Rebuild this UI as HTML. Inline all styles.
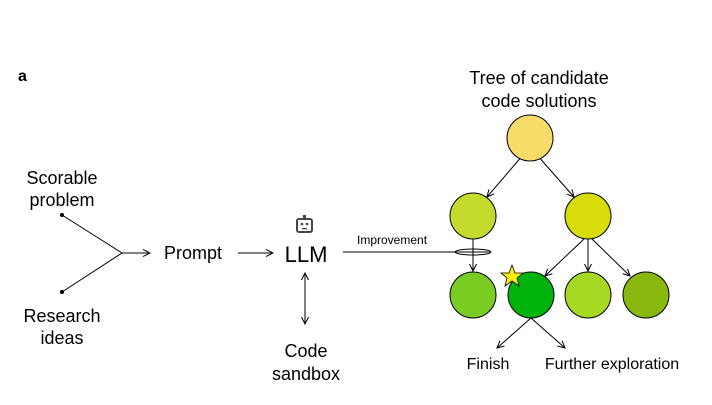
<!DOCTYPE html>
<html><head><style>body{margin:0;background:#fff}</style></head><body>
<svg width="712" height="400" xmlns="http://www.w3.org/2000/svg" font-family="Liberation Sans, sans-serif">
<defs><marker id="a" markerWidth="8" markerHeight="8" refX="7" refY="4" orient="auto" markerUnits="userSpaceOnUse"><path d="M0,0.5 L7,4 L0,7.5" fill="none" stroke="#000" stroke-width="1"/></marker></defs>
<text x="18" y="81" font-size="16" font-weight="bold">a</text>
<g font-size="18" text-anchor="middle">
<text x="62" y="184">Scorable</text><text x="62" y="206">problem</text>
<text x="62" y="322">Research</text><text x="62" y="344">ideas</text>
<text x="193" y="259">Prompt</text>
<text x="306" y="357">Code</text><text x="306" y="380">sandbox</text>
<text x="539" y="84">Tree of candidate</text><text x="539" y="107">code solutions</text>
<text x="488" y="369" font-size="16">Finish</text><text x="612" y="369" font-size="16">Further exploration</text>
</g>
<text x="306" y="262" font-size="22" text-anchor="middle">LLM</text>
<text x="357" y="244" font-size="12">Improvement</text>
<g stroke="#000" stroke-width="1" fill="none">
<circle cx="62" cy="215" r="1.5" fill="#000"/><circle cx="62" cy="292" r="1.5" fill="#000"/>
<path d="M62,215 L122,253 L62,292"/>
<line x1="122" y1="253" x2="150" y2="253" marker-end="url(#a)"/>
<line x1="238" y1="253" x2="273" y2="253" marker-end="url(#a)"/>
<line x1="305" y1="279" x2="305" y2="273" marker-end="url(#a)"/>
<line x1="305" y1="274" x2="305" y2="324" marker-end="url(#a)"/>
<line x1="343" y1="252" x2="490" y2="252"/>
<line x1="523" y1="155" x2="487" y2="197" marker-end="url(#a)"/>
<line x1="537" y1="155" x2="574" y2="197" marker-end="url(#a)"/>
<line x1="473" y1="239" x2="473" y2="271" marker-end="url(#a)"/>
<line x1="584" y1="239" x2="545" y2="276" marker-end="url(#a)"/>
<line x1="588" y1="239" x2="588" y2="271" marker-end="url(#a)"/>
<line x1="592" y1="239" x2="630" y2="276" marker-end="url(#a)"/>
<line x1="531" y1="318" x2="497" y2="348" marker-end="url(#a)"/>
<line x1="531" y1="318" x2="565" y2="348" marker-end="url(#a)"/>
</g>
<g stroke="#000" stroke-width="1">
<circle cx="530" cy="138" r="23" fill="#f7dc6a"/>
<circle cx="473" cy="216" r="23" fill="#c4da2c"/>
<circle cx="588" cy="216" r="23" fill="#d8dc0a"/>
<circle cx="473" cy="295" r="23" fill="#79cd22"/>
<circle cx="531" cy="295" r="23" fill="#00b30c"/>
<circle cx="588" cy="295" r="23" fill="#a6d923"/>
<circle cx="646" cy="295" r="23" fill="#88b70d"/>
<ellipse cx="473" cy="252" rx="18" ry="3" fill="none"/>
<polygon points="512,265 515,273 523,273 517,278 519,286 512,281 505,286 507,278 501,273 509,273" fill="#ffee00" stroke-width="0.8"/>
</g>
<g fill="#444">
<rect x="297" y="219" width="15" height="13" rx="2" fill="none" stroke="#444" stroke-width="2"/>
<rect x="303" y="215" width="3" height="4"/>
<circle cx="302" cy="224" r="1.3"/><circle cx="307" cy="224" r="1.3"/>
<rect x="302" y="228" width="5" height="1.3"/>
</g>
</svg>
</body></html>
